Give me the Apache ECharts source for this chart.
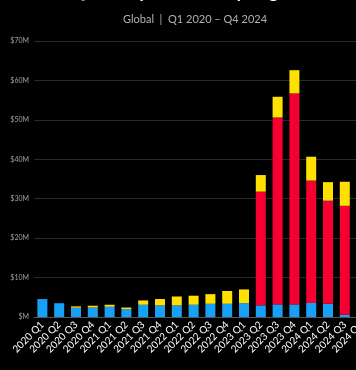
<!DOCTYPE html>
<html><head><meta charset="utf-8">
<script src="https://cdn.jsdelivr.net/npm/echarts@6/dist/echarts.min.js"></script>
<style>html,body{margin:0;padding:0;background:#000;overflow:hidden;width:356px;height:370px;}#c{width:370px;height:370px;}</style>
</head><body><div id="c"></div>
<script>
const titleText = "Quarterly Revenue by Segment";
const subtitleText = "Global  |  Q1 2020 – Q4 2024";
const categories = ["2020 Q1","2020 Q2","2020 Q3","2020 Q4","2021 Q1","2021 Q2","2021 Q3","2021 Q4","2022 Q1","2022 Q2","2022 Q3","2022 Q4","2023 Q1","2023 Q2","2023 Q3","2023 Q4","2024 Q1","2024 Q2","2024 Q3","2024 Q4"];
const blueValues   = [4.55,3.5,2.35,2.4,2.6,2.0,3.1,2.95,2.95,3.1,3.35,3.35,3.5,2.95,3.2,3.2,3.55,3.35,0.6,0.5];
const redValues    = [0,0,0,0,0,0,0,0,0,0,0,0,0,28.85,47.4,53.5,31.05,26.15,27.6,25.0];
const yellowValues = [0,0,0.35,0.45,0.5,0.4,1.1,1.6,2.25,2.3,2.45,3.25,3.5,4.2,5.25,5.9,6.05,4.7,6.1,6.0];
const yTickLabels = {0:"$M",10:"$10M",20:"$20M",30:"$30M",40:"$40M",50:"$50M",60:"$60M",70:"$70M"};
const seriesNames = ["Segment A","Segment B","Segment C"];
const colors = ["#16a0f8","#f50030","#ffe000"];

const chart = echarts.init(document.getElementById('c'), null, {renderer:'canvas', width:370, height:370});
const font = 'Lato, "Noto Sans", sans-serif';
chart.setOption({
  backgroundColor:'#000',
  animation:false,
  title:[
    {text:titleText, left:190, textAlign:'center', top:-22, textStyle:{color:'#fff',fontSize:18,fontWeight:'bold',fontFamily:font}},
    {text:subtitleText, left:190, textAlign:'center', top:9, textStyle:{color:'#b0b0b0',fontSize:11,fontWeight:'normal',fontFamily:font}}
  ],
  grid:{left:34, top:41, right:0, bottom:53, containLabel:false},
  xAxis:{type:'category', data:categories,
    axisLine:{show:true,lineStyle:{color:'#555',width:1}},
    axisTick:{show:false},
    axisLabel:{color:'#fff',fontSize:10,rotate:45,margin:6,interval:0,fontFamily:font}},
  yAxis:{type:'value', min:0, max:70, interval:10,
    axisLine:{show:false}, axisTick:{show:false},
    splitLine:{lineStyle:{color:'#2a2a2a',width:1}},
    axisLabel:{color:'#a0a0a0',fontSize:7,margin:5,fontFamily:font,formatter:v=>yTickLabels[v]}},
  series:[
    {name:seriesNames[0],type:'bar',stack:'s',data:blueValues,barWidth:10,itemStyle:{color:colors[0]}},
    {name:seriesNames[1],type:'bar',stack:'s',data:redValues,barWidth:10,itemStyle:{color:colors[1]}},
    {name:seriesNames[2],type:'bar',stack:'s',data:yellowValues,barWidth:10,itemStyle:{color:colors[2]}}
  ]
});
</script></body></html>
